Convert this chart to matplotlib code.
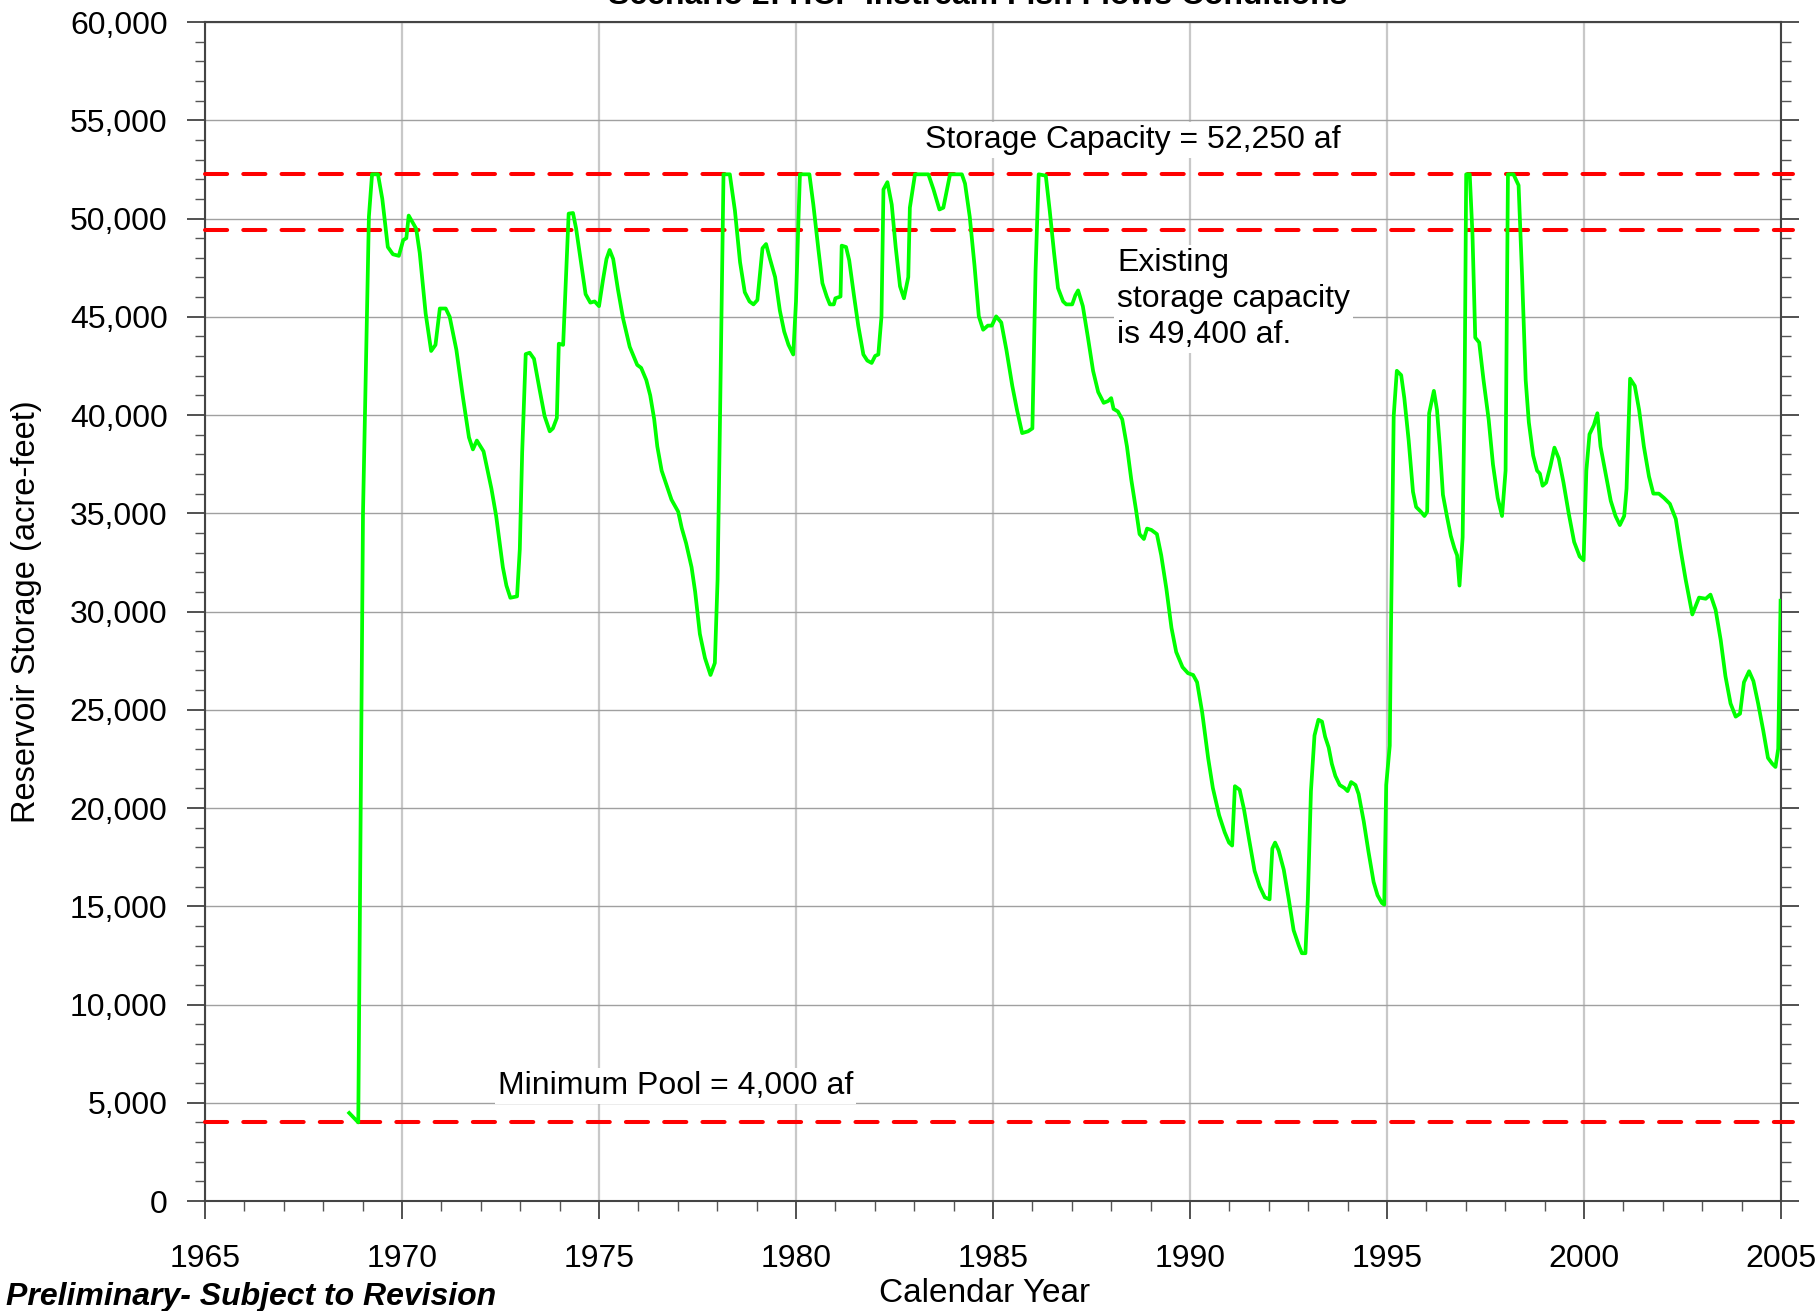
import matplotlib
matplotlib.use("Agg")
import matplotlib.pyplot as plt
from matplotlib.ticker import MultipleLocator, FuncFormatter

plt.rcParams['font.family'] = ['Liberation Sans', 'DejaVu Sans']

# storage trace (decimal year, acre-feet)
years = [
    1968.66, 1968.89, 1969.01, 1969.16, 1969.24, 1969.39, 1969.50, 1969.64, 1969.77, 1969.92,
    1970.03, 1970.11, 1970.17, 1970.36, 1970.45, 1970.60, 1970.74, 1970.85, 1970.96, 1971.11,
    1971.21, 1971.38, 1971.55, 1971.70, 1971.80, 1971.90, 1972.07, 1972.27, 1972.39, 1972.56,
    1972.65, 1972.75, 1972.92, 1972.99, 1973.05, 1973.14, 1973.24, 1973.35, 1973.49, 1973.62,
    1973.75, 1973.83, 1973.93, 1973.98, 1974.09, 1974.23, 1974.34, 1974.42, 1974.53, 1974.66,
    1974.78, 1974.89, 1975.00, 1975.10, 1975.19, 1975.27, 1975.36, 1975.48, 1975.61, 1975.78,
    1975.97, 1976.07, 1976.20, 1976.30, 1976.40, 1976.48, 1976.59, 1976.72, 1976.84, 1977.01,
    1977.10, 1977.21, 1977.35, 1977.44, 1977.56, 1977.69, 1977.83, 1977.94, 1978.01, 1978.07,
    1978.16, 1978.32, 1978.45, 1978.58, 1978.70, 1978.82, 1978.92, 1979.02, 1979.15, 1979.24,
    1979.34, 1979.47, 1979.59, 1979.70, 1979.81, 1979.93, 1980.00, 1980.06, 1980.10, 1980.34,
    1980.44, 1980.57, 1980.67, 1980.78, 1980.86, 1980.96, 1981.00, 1981.13, 1981.16, 1981.27,
    1981.35, 1981.47, 1981.58, 1981.71, 1981.81, 1981.92, 1982.01, 1982.09, 1982.17, 1982.22,
    1982.32, 1982.43, 1982.53, 1982.64, 1982.74, 1982.85, 1982.89, 1983.02, 1983.36, 1983.49,
    1983.64, 1983.74, 1983.91, 1984.21, 1984.29, 1984.41, 1984.53, 1984.64, 1984.75, 1984.87,
    1984.97, 1985.08, 1985.21, 1985.34, 1985.49, 1985.61, 1985.74, 1985.89, 1986.00, 1986.08,
    1986.16, 1986.34, 1986.44, 1986.55, 1986.65, 1986.78, 1986.86, 1987.01, 1987.09, 1987.16,
    1987.28, 1987.41, 1987.54, 1987.67, 1987.81, 1987.92, 1988.00, 1988.06, 1988.17, 1988.28,
    1988.40, 1988.51, 1988.63, 1988.72, 1988.83, 1988.91, 1989.02, 1989.16, 1989.27, 1989.40,
    1989.53, 1989.65, 1989.81, 1989.95, 1990.08, 1990.18, 1990.31, 1990.46, 1990.58, 1990.74,
    1990.88, 1990.99, 1991.07, 1991.14, 1991.26, 1991.37, 1991.50, 1991.64, 1991.77, 1991.90,
    1992.02, 1992.09, 1992.16, 1992.25, 1992.38, 1992.51, 1992.63, 1992.76, 1992.84, 1992.93,
    1992.99, 1993.07, 1993.16, 1993.26, 1993.35, 1993.43, 1993.52, 1993.60, 1993.69, 1993.80,
    1993.92, 1994.00, 1994.09, 1994.20, 1994.28, 1994.41, 1994.53, 1994.66, 1994.76, 1994.87,
    1994.93, 1994.98, 1995.07, 1995.10, 1995.17, 1995.25, 1995.36, 1995.44, 1995.55, 1995.66,
    1995.74, 1995.86, 1995.95, 1996.02, 1996.07, 1996.19, 1996.27, 1996.34, 1996.42, 1996.52,
    1996.62, 1996.71, 1996.78, 1996.84, 1996.92, 1996.97, 1997.01, 1997.10, 1997.17, 1997.24,
    1997.34, 1997.45, 1997.58, 1997.69, 1997.81, 1997.92, 1998.01, 1998.07, 1998.21, 1998.34,
    1998.43, 1998.52, 1998.60, 1998.71, 1998.81, 1998.88, 1998.95, 1999.04, 1999.15, 1999.25,
    1999.36, 1999.48, 1999.61, 1999.75, 1999.89, 1999.99, 2000.06, 2000.14, 2000.25, 2000.34,
    2000.42, 2000.55, 2000.68, 2000.80, 2000.91, 2001.02, 2001.08, 2001.17, 2001.29, 2001.40,
    2001.52, 2001.65, 2001.76, 2001.90, 2002.03, 2002.18, 2002.33, 2002.45, 2002.58, 2002.75,
    2002.92, 2003.09, 2003.21, 2003.34, 2003.47, 2003.59, 2003.72, 2003.85, 2003.96, 2004.06,
    2004.19, 2004.30, 2004.42, 2004.55, 2004.67, 2004.78, 2004.86, 2004.93, 2004.99,
]
storage = [
    4480, 4000, 35000, 50100, 52250, 52250, 51000, 48550, 48180, 48100,
    48900, 49000, 50150, 49480, 48250, 45170, 43260, 43570, 45420, 45420,
    45000, 43320, 40860, 38860, 38250, 38700, 38150, 36250, 34860, 32250,
    31320, 30700, 30770, 33170, 38100, 43100, 43170, 42860, 41320, 39940,
    39170, 39320, 39850, 43630, 43570, 50250, 50280, 49480, 47940, 46150,
    45720, 45780, 45540, 46860, 47940, 48400, 47940, 46400, 44920, 43470,
    42550, 42400, 41780, 41000, 39800, 38400, 37170, 36400, 35690, 35080,
    34250, 33480, 32250, 31010, 28860, 27630, 26770, 27380, 31630, 39630,
    52250, 52250, 50400, 47780, 46250, 45780, 45630, 45850, 48490, 48700,
    47940, 47020, 45320, 44250, 43570, 43080, 45780, 49780, 52250, 52250,
    50710, 48400, 46710, 46030, 45630, 45630, 45940, 46030, 48620, 48550,
    47880, 46100, 44550, 43080, 42770, 42650, 43010, 43080, 45020, 51480,
    51850, 50710, 48550, 46550, 45940, 47020, 50550, 52250, 52250, 51480,
    50460, 50550, 52250, 52250, 51780, 50090, 47630, 45020, 44340, 44550,
    44550, 45020, 44710, 43320, 41480, 40250, 39080, 39170, 39320, 47330,
    52250, 52180, 50400, 48250, 46460, 45780, 45630, 45630, 46090, 46340,
    45540, 43940, 42250, 41170, 40620, 40710, 40860, 40310, 40180, 39780,
    38400, 36710, 35170, 33940, 33690, 34220, 34150, 33940, 32860, 31170,
    29170, 27940, 27170, 26860, 26770, 26400, 24860, 22550, 21020, 19630,
    18770, 18240, 18090, 21110, 20930, 19940, 18400, 16800, 16000, 15450,
    15350, 17940, 18240, 17840, 16860, 15320, 13780, 13010, 12610, 12610,
    15320, 20860, 23690, 24490, 24400, 23630, 23080, 22250, 21630, 21170,
    21020, 20860, 21320, 21170, 20710, 19320, 17780, 16240, 15560, 15170,
    15080, 21170, 23170, 28860, 39940, 42250, 42030, 40860, 38710, 36090,
    35320, 35080, 34860, 35080, 40090, 41230, 40250, 38400, 35940, 34860,
    33850, 33230, 32860, 31320, 33780, 41170, 52250, 52250, 49170, 43940,
    43690, 41780, 39780, 37480, 35780, 34860, 37170, 52250, 52250, 51690,
    47020, 41780, 39630, 37940, 37170, 37020, 36400, 36560, 37420, 38340,
    37790, 36560, 35020, 33540, 32800, 32610, 37170, 39020, 39480, 40090,
    38400, 37020, 35630, 34860, 34400, 34860, 36250, 41850, 41480, 40250,
    38400, 36870, 36000, 36000, 35780, 35480, 34710, 33170, 31630, 29850,
    30710, 30650, 30860, 30090, 28550, 26710, 25320, 24650, 24800, 26400,
    26960, 26460, 25320, 23940, 22550, 22250, 22090, 23020, 30550,
]

capacity = 52250
existing_capacity = 49400
min_pool = 4000

fig = plt.figure(figsize=(18.19, 13.11), dpi=100)
ax = fig.add_axes([0.1127, 0.0839, 0.8664, 0.8993])

ax.set_xlim(1965, 2005)
ax.set_ylim(0, 60000)

# reference lines
dash = (0, (5.5, 4))
for lvl in [capacity, existing_capacity, min_pool]:
    ax.plot([1965, 2005.3], [lvl, lvl], color='#ff0000', lw=2.9, linestyle=dash,
            dash_capstyle='round', clip_on=False, zorder=3)

ax.plot(years, storage, color='#00ff00', lw=2.7, solid_joinstyle='round', zorder=4)

# grid
ax.xaxis.set_major_locator(MultipleLocator(5))
ax.xaxis.set_minor_locator(MultipleLocator(1))
ax.yaxis.set_major_locator(MultipleLocator(5000))
ax.yaxis.set_minor_locator(MultipleLocator(1000))
ax.yaxis.set_major_formatter(FuncFormatter(lambda v, p: f"{int(v):,}"))
ax.grid(True, axis='x', which='major', color='#c8c8c8', lw=1.6, zorder=1)
ax.grid(True, axis='y', which='major', color='#a0a0a0', lw=1.0, zorder=1)
ax.set_axisbelow(True)

for s in ax.spines.values():
    s.set_color('#444444')
    s.set_linewidth(1.5)

ax.tick_params(axis='both', which='major', direction='out', length=13, width=1.2,
               colors='#333333', labelcolor='black', labelsize=23)
ax.tick_params(axis='both', which='minor', direction='out', length=7, width=1.0,
               colors='#555555')
ax.tick_params(axis='y', which='both', right=True)
ax.tick_params(axis='x', which='major', pad=18)
ax.tick_params(axis='y', which='major', pad=14)

# annotations
ax.text(1988.55, 54000, "Storage Capacity = 52,250 af", fontsize=23, ha='center', va='center',
        bbox=dict(facecolor='white', edgecolor='none', pad=2), zorder=5)
ax.text(1988.15, 45900, "Existing\nstorage capacity\nis 49,400 af.", fontsize=23,
        ha='left', va='center', linespacing=1.25,
        bbox=dict(facecolor='white', edgecolor='none', pad=2), zorder=5)
ax.text(1976.95, 5850, "Minimum Pool = 4,000 af", fontsize=23, ha='center', va='center',
        bbox=dict(facecolor='white', edgecolor='none', pad=2), zorder=5)

fig.text(27 / 1819, 0.5334, "Reservoir Storage (acre-feet)", rotation=90, fontsize=23.5,
         ha='center', va='center')
fig.text(985 / 1819, 1 - 1293 / 1311, "Calendar Year", fontsize=24, ha='center', va='center')
fig.text(6 / 1819, 1 - 1297 / 1311, "Preliminary- Subject to Revision", fontsize=23,
         fontweight='bold', fontstyle='italic', ha='left', va='center')
fig.text(978 / 1819, 1 - 4 / 1311, "Scenario 2: HCP Instream Fish Flows Conditions",
         fontsize=23, fontweight='bold', ha='center', va='baseline')

fig.savefig("out.png", dpi=100)
